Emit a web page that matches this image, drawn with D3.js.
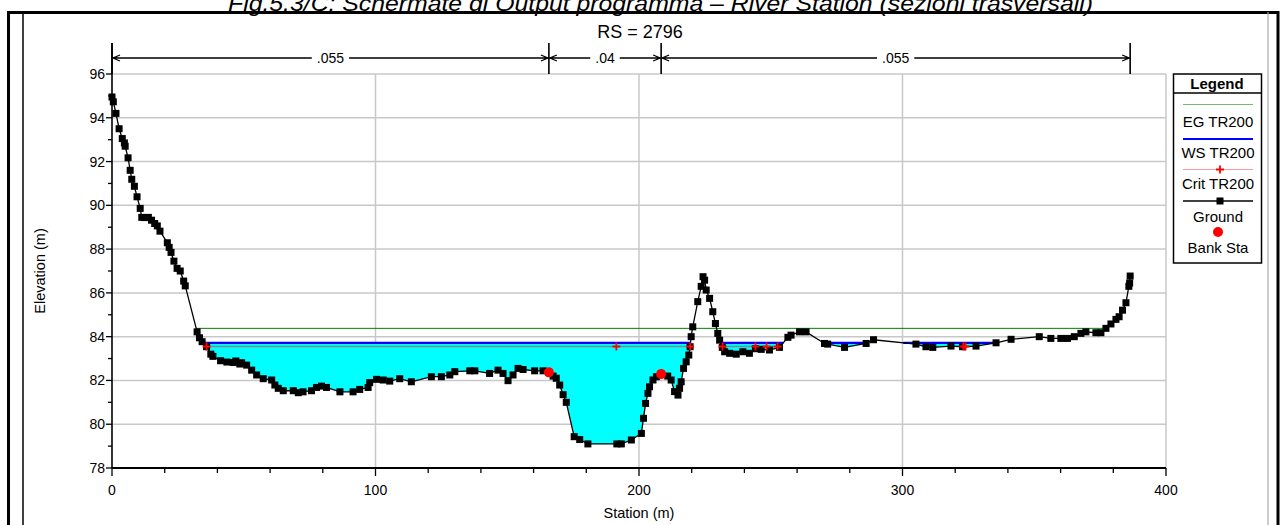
<!DOCTYPE html>
<html><head><meta charset="utf-8">
<script src="https://cdn.jsdelivr.net/npm/d3@7/dist/d3.min.js"></script>
<style>body{margin:0;background:#fff}svg{display:block}text{font-family:"Liberation Sans",Arial,sans-serif}</style>
</head><body>
<svg id="c" width="1282" height="525"></svg>
<script>
// ---------------- DATA ----------------
const titleText = "Fig.5.3/C: Schermate di Output programma – River Station (sezioni trasversali)";
const rsLabel = "RS = 2796";
const groundStation = [0,0.5,1.5,2.7,3.9,4.7,5.0,6.1,6.9,7.5,8.5,9.5,10.7,11.3,12.5,13.8,15.0,16.2,17.2,18.2,21.0,21.7,22.4,23.5,24.7,25.9,27.2,27.8,32.3,33.2,34.2,35.9,37.5,38.3,41.2,43.6,46.0,47.0,48.5,49.2,51.1,53.0,54.9,57.4,60.6,61.8,63.1,65.0,68.8,70.7,72.5,75.7,77.6,79.5,81.4,86.5,91.5,94.0,97.2,97.8,100.4,102.9,105.4,109.2,113.6,121.2,125.0,128.2,130.1,135.8,137.7,143.3,146.5,148.4,150.3,152.2,154.1,156.0,160.4,163.6,165.8,167.4,168.6,169.9,171.2,172.4,175.4,177.5,180.6,191.6,193.3,197.1,200.9,201.7,202.5,203.4,204.0,205.3,206.6,208.4,210.9,212.2,213.5,214.8,215.4,216.0,216.9,217.9,218.9,219.4,219.8,220.4,222.3,223.6,224.3,224.9,225.5,226.8,228.0,229.0,229.9,230.6,231.6,232.5,234.4,236.9,239.4,241.9,244.2,246.4,249.5,253.3,256.5,257.7,260.9,263.4,270.4,271.6,278.0,286.2,289.0,305.1,308.9,311.5,318.4,322.8,327.9,335.5,341.2,351.9,356.3,360.1,362.6,365.2,367.7,369.6,373.4,375.3,377.2,379.1,381.0,382.2,383.5,384.8,385.9,386.2,386.4];
const groundElev = [94.95,94.73,94.2,93.5,93.05,92.85,92.7,92.17,91.6,91.19,90.87,90.39,89.86,89.45,89.44,89.45,89.32,89.17,89.06,88.82,88.29,88.08,87.85,87.45,87.12,87.0,86.54,86.32,84.22,83.95,83.77,83.54,83.2,83.1,82.9,82.84,82.82,82.89,82.75,82.81,82.7,82.47,82.25,82.08,82.02,81.79,81.64,81.53,81.53,81.44,81.48,81.53,81.68,81.74,81.68,81.48,81.48,81.59,81.68,81.9,82.05,82.02,81.97,82.08,81.94,82.17,82.17,82.25,82.4,82.44,82.44,82.32,82.47,82.32,81.99,82.25,82.55,82.5,82.44,82.44,82.37,82.2,82.1,81.79,81.35,81.0,79.43,79.3,79.1,79.1,79.1,79.28,79.58,80.27,80.95,81.41,81.71,82.02,82.17,82.29,82.2,82.02,81.49,81.33,81.64,81.94,82.55,82.85,83.16,83.54,84.0,84.45,85.6,86.3,86.74,86.58,86.13,85.75,85.14,84.6,84.15,83.84,83.51,83.31,83.24,83.2,83.31,83.24,83.45,83.42,83.39,83.51,83.97,84.07,84.22,84.22,83.69,83.66,83.51,83.69,83.86,83.66,83.54,83.51,83.57,83.54,83.57,83.72,83.88,84.0,83.92,83.92,83.92,84.0,84.15,84.22,84.18,84.18,84.38,84.58,84.79,84.91,85.21,85.55,86.3,86.45,86.77];
const bankStation = [165.8, 208.4];
const bankElev = [82.37, 82.29];
const egElev = 84.38;     // EG TR200
const wsElev = 83.72;     // WS TR200
const critElev = 83.55;   // Crit TR200
const critStations = [[35.9,191.4,219.4],[231.7,244.2,248.4,252.6],[323.1,323.9]];
const nBreaks = [0, 165.8, 208.4, 386.4];
const nValues = [".055", ".04", ".055"];
const xTicks = [0,100,200,300,400];
const yTicks = [78,80,82,84,86,88,90,92,94,96];
const legendLabels = ["EG TR200","WS TR200","Crit TR200","Ground","Bank Sta"];
const xTitle = "Station (m)", yTitle = "Elevation (m)", legendTitle = "Legend";

// ---------------- DRAW ----------------
const svg = d3.select("#c");
const x = d3.scaleLinear().domain([0,400]).range([112,1166]);
const y = d3.scaleLinear().domain([78,96]).range([468,74]);
const ground = groundStation.map((s,i)=>({s, e:groundElev[i]}));

// frame
svg.append("text").attr("x",228).attr("y",11).attr("font-size",22).attr("font-style","italic")
  .attr("textLength",865).attr("lengthAdjust","spacingAndGlyphs").text(titleText);
svg.append("rect").attr("x",8.5).attr("y",12.5).attr("width",1269.5).attr("height",540)
  .attr("fill","none").attr("stroke","#000").attr("stroke-width",3);
svg.append("line").attr("x1",23).attr("x2",23).attr("y1",12).attr("y2",525).attr("stroke","#000").attr("stroke-width",1.5);
svg.append("line").attr("x1",1268).attr("x2",1268).attr("y1",12).attr("y2",525).attr("stroke","#aaa").attr("stroke-width",1.2);

// grid
const g = svg.append("g");
g.selectAll(".hg").data(yTicks.slice(1)).join("line")
  .attr("x1",x(0)).attr("x2",x(400)).attr("y1",d=>y(d)).attr("y2",d=>y(d))
  .attr("stroke","#c8c8c8").attr("stroke-width",1.5);
g.selectAll(".vg").data(xTicks.slice(1)).join("line")
  .attr("x1",d=>x(d)).attr("x2",d=>x(d)).attr("y1",y(96)).attr("y2",y(78))
  .attr("stroke","#c8c8c8").attr("stroke-width",1.5);

// water fill: below WS and above ground
const defs = svg.append("defs");
defs.append("clipPath").attr("id","above").append("path")
  .attr("d", d3.area().x(d=>x(d.s)).y0(0).y1(d=>y(d.e))(ground));
svg.append("rect").attr("x",x(0)).attr("width",x(400)-x(0)).attr("y",y(wsElev)).attr("height",y(78)-y(wsElev))
  .attr("fill","#00ffff").attr("clip-path","url(#above)");

// crossings helper
function wetIntervals(level){
  const out=[]; let start=null;
  for(let i=0;i<ground.length;i++){
    const p=ground[i], below=p.e<level;
    if(i>0){
      const q=ground[i-1], qb=q.e<level;
      if(below!==qb){
        const t=(level-q.e)/(p.e-q.e), sx=q.s+t*(p.s-q.s);
        if(below) start=sx; else {out.push([start,sx]); start=null;}
      }
    }
  }
  return out;
}
// EG line
const egInt = wetIntervals(egElev);
svg.append("line").attr("x1",x(egInt[0][0])).attr("x2",x(egInt[egInt.length-1][1]))
  .attr("y1",y(egElev)).attr("y2",y(egElev)).attr("stroke","#008000").attr("stroke-width",1);
// WS lines
svg.selectAll(".ws").data(wetIntervals(wsElev)).join("line")
  .attr("x1",d=>x(d[0])).attr("x2",d=>x(d[1])).attr("y1",y(wsElev)).attr("y2",y(wsElev))
  .attr("stroke","#0000ff").attr("stroke-width",2.2);
// Crit
critStations.forEach(gr=>{
  svg.append("line").attr("x1",x(gr[0])).attr("x2",x(gr[gr.length-1])).attr("y1",y(critElev)).attr("y2",y(critElev))
    .attr("stroke","#ff0000").attr("stroke-opacity",0.45).attr("stroke-width",1.3);
});
function plus(sel,cx,cy){
  sel.append("path").attr("d",`M${cx-4},${cy}H${cx+4}M${cx},${cy-4}V${cy+4}`).attr("stroke","#ff0000").attr("stroke-width",1.8);
}

// ground
svg.append("path").attr("d",d3.line().x(d=>x(d.s)).y(d=>y(d.e))(ground))
  .attr("fill","none").attr("stroke","#000").attr("stroke-width",1.3);
svg.selectAll(".gp").data(ground).join("rect")
  .attr("x",d=>x(d.s)-3.5).attr("y",d=>y(d.e)-3.5).attr("width",7).attr("height",7).attr("fill","#000");
critStations.flat().forEach(s=>plus(svg,x(s),y(critElev)));
svg.selectAll(".bk").data(bankStation).join("circle")
  .attr("cx",d=>x(d)).attr("cy",(d,i)=>y(bankElev[i])).attr("r",5).attr("fill","#ff0000");

// axes
const xAxis = svg.append("g").attr("transform",`translate(0,${y(78)})`);
xAxis.append("line").attr("x1",x(0)).attr("x2",x(400)).attr("stroke","#000").attr("stroke-width",2.2);
xAxis.selectAll(".xt").data(d3.range(0,401,20)).join("line")
  .attr("x1",d=>x(d)).attr("x2",d=>x(d)).attr("y1",0).attr("y2",d=>d%100===0?8:5).attr("stroke","#000").attr("stroke-width",1.3);
xAxis.selectAll(".xl").data(xTicks).join("text")
  .attr("x",d=>x(d)).attr("y",27).attr("text-anchor","middle").attr("font-size",14).text(d=>d);
const yAxis = svg.append("g").attr("transform",`translate(${x(0)},0)`);
yAxis.append("line").attr("y1",43).attr("y2",y(78)).attr("stroke","#000").attr("stroke-width",1.6);
yAxis.selectAll(".yt").data(d3.range(78,96.1,1)).join("line")
  .attr("y1",d=>y(d)).attr("y2",d=>y(d)).attr("x1",d=>d%2===0?-6:-4).attr("x2",0).attr("stroke","#000").attr("stroke-width",1.3);
yAxis.selectAll(".yl").data(yTicks).join("text")
  .attr("x",-7).attr("y",d=>y(d)+5).attr("text-anchor","end").attr("font-size",14).text(d=>d);
svg.append("text").attr("x",x(200)).attr("y",518).attr("text-anchor","middle").attr("font-size",14.5).text(xTitle);
svg.append("text").attr("transform",`translate(45,${y(87)}) rotate(-90)`).attr("text-anchor","middle").attr("font-size",14.5).text(yTitle);

// RS label
svg.append("text").attr("x",640).attr("y",38).attr("text-anchor","middle").attr("font-size",18).text(rsLabel);

// Manning n row
const nY = 58;
nBreaks.forEach(s=>{
  svg.append("line").attr("x1",x(s)).attr("x2",x(s)).attr("y1",43).attr("y2",74).attr("stroke","#000").attr("stroke-width",1.6);
});
nValues.forEach((v,i)=>{
  const a=x(nBreaks[i]), b=x(nBreaks[i+1]), m=(a+b)/2;
  const t=svg.append("text").attr("x",m).attr("y",nY+5).attr("text-anchor","middle").attr("font-size",14).text(v);
  const hw=t.node().getComputedTextLength()/2+5;
  svg.append("path").attr("d",`M${a},${nY}H${m-hw}M${m+hw},${nY}H${b}M${a+8},${nY-3}L${a+1},${nY}L${a+8},${nY+3}M${b-8},${nY-3}L${b-1},${nY}L${b-8},${nY+3}`)
    .attr("fill","none").attr("stroke","#000").attr("stroke-width",1.3);
});

// Legend
const L = svg.append("g");
L.append("rect").attr("x",1173.5).attr("y",74).attr("width",88).attr("height",189).attr("fill","#fff").attr("stroke","#000").attr("stroke-width",1.5);
L.append("line").attr("x1",1173.5).attr("x2",1261.5).attr("y1",93).attr("y2",93).attr("stroke","#000").attr("stroke-width",1.3);
L.append("text").attr("x",1217).attr("y",89).attr("text-anchor","middle").attr("font-size",15).attr("font-weight","bold").text(legendTitle);
const symY=[104.5,139,169.5,201,232], labY=[127,158,189,222,253];
L.append("line").attr("x1",1183).attr("x2",1253).attr("y1",symY[0]).attr("y2",symY[0]).attr("stroke","#008000").attr("stroke-opacity",0.55).attr("stroke-width",1);
L.append("line").attr("x1",1183).attr("x2",1253).attr("y1",symY[1]).attr("y2",symY[1]).attr("stroke","#0000ff").attr("stroke-width",2);
L.append("line").attr("x1",1183).attr("x2",1253).attr("y1",symY[2]).attr("y2",symY[2]).attr("stroke","#ff0000").attr("stroke-opacity",0.4).attr("stroke-width",1.2);
plus(L,1220,symY[2]);
L.append("line").attr("x1",1183).attr("x2",1253).attr("y1",symY[3]).attr("y2",symY[3]).attr("stroke","#000").attr("stroke-width",1.3);
L.append("rect").attr("x",1216.5).attr("y",symY[3]-3.5).attr("width",7).attr("height",7).attr("fill","#000");
L.append("circle").attr("cx",1218).attr("cy",symY[4]).attr("r",5).attr("fill","#ff0000");
L.selectAll(".ll").data(legendLabels).join("text").attr("x",1218).attr("y",(d,i)=>labY[i])
  .attr("text-anchor","middle").attr("font-size",15).text(d=>d);
</script>
</body></html>
